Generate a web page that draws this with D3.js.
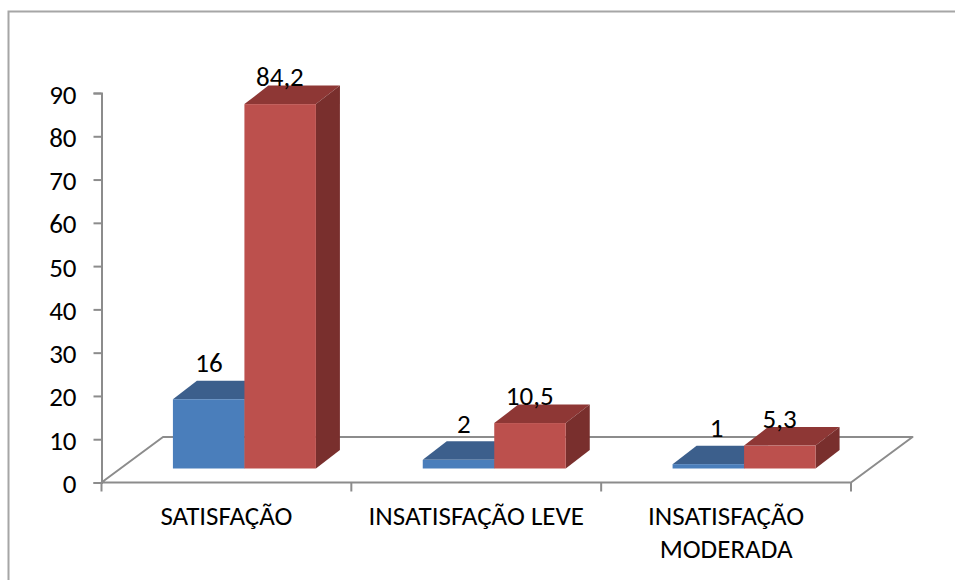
<!DOCTYPE html>
<html><head><meta charset="utf-8">
<script src="https://cdnjs.cloudflare.com/ajax/libs/d3/7.8.5/d3.min.js"></script>
<style>html,body{margin:0;padding:0;background:#fff}svg{display:block}text{font-family:Carlito,"Liberation Sans","Open Sans",sans-serif;fill:#000}</style>
</head><body>
<svg id="c" width="955" height="580"></svg>
<script>
const categories = [["SATISFAÇÃO"], ["INSATISFAÇÃO LEVE"], ["INSATISFAÇÃO", "MODERADA"]];
const seriesA = [16, 2, 1];
const seriesB = [84.2, 10.5, 5.3];
const labelsA = ["16", "2", "1"];
const labelsB = ["84,2", "10,5", "5,3"];
const yTicks = [0,10,20,30,40,50,60,70,80,90];

const svg = d3.select("#c");
const grey = "#8c8c8c";
const X0 = 101.5, X1 = 851, Y0 = 482.5, YT = 93;
const depthFloor = [61.5, -45.5];
const y = d3.scaleLinear().domain([0,90]).range([Y0, YT]);
const xCat = d3.scaleBand().domain(d3.range(categories.length)).range([X0, X1]);
const unit = (Y0 - YT) / 90;
const baseY = 468.5;
const barW = 71.5, dx = 24, dy = 18.5;
const nudgeA = [0, 5, 8];

// frame
svg.append("path").attr("d","M8.5 580V11.5H955").attr("fill","none").attr("stroke","#a6a6a6").attr("stroke-width",2);

// floor
svg.append("path")
  .attr("d",`M${X0} ${Y0}L${X0+depthFloor[0]} ${Y0+depthFloor[1]}H${X1+depthFloor[0]}L${X1} ${Y0}Z`)
  .attr("fill","#fff").attr("stroke",grey).attr("stroke-width",2).attr("stroke-linejoin","round");

// axes
const yAxis = d3.axisLeft(y).tickValues(yTicks).tickSize(8).tickPadding(17);
const gy = svg.append("g").attr("transform",`translate(${X0},0)`).call(yAxis);
gy.selectAll("line,path").attr("stroke",grey).attr("stroke-width",2);
gy.selectAll("text").attr("font-size",27).attr("dy","0.37em").style("font-family",'Carlito,"Liberation Sans",sans-serif').attr("fill","#000");

const edges = d3.scaleLinear().domain([0,3]).range([X0,X1]);
svg.append("g").selectAll("line").data(d3.range(0,4)).join("line")
  .attr("x1",d=>edges(d)).attr("x2",d=>edges(d)).attr("y1",Y0).attr("y2",Y0+9)
  .attr("stroke",grey).attr("stroke-width",2);

function bar(g, x, v, front, top, side){
  const t = baseY - v*unit;
  g.append("path").attr("d",`M${x} ${t}l${dx} ${-dy}h${barW}l${-dx} ${dy}Z`).attr("fill",top);
  g.append("path").attr("d",`M${x+barW} ${t}l${dx} ${-dy}V${baseY-dy}l${-dx} ${dy}Z`).attr("fill",side);
  g.append("rect").attr("x",x).attr("y",t).attr("width",barW).attr("height",baseY-t).attr("fill",front);
}
const bars = svg.append("g");
categories.forEach((c,i)=>{
  const cx = xCat(i)+xCat.bandwidth()/2 + 18;
  bar(bars, cx-barW, seriesA[i], "#4a7ebb", "#3c5f8c", "#2f4b70");
  bar(bars, cx, seriesB[i], "#bc504d", "#8e3735", "#792f2d");
});

// value labels
categories.forEach((c,i)=>{
  const cx = xCat(i)+xCat.bandwidth()/2 + 18;
  svg.append("text").attr("x",cx-35.5+nudgeA[i]).attr("y",baseY-seriesA[i]*unit-27).attr("text-anchor","middle").attr("font-size",27).text(labelsA[i]);
  svg.append("text").attr("x",cx+35.5).attr("y",baseY-seriesB[i]*unit-18).attr("text-anchor","middle").attr("font-size",27).text(labelsB[i]);
});

// category labels
categories.forEach((c,i)=>{
  const cx = xCat(i)+xCat.bandwidth()/2;
  const t = svg.append("text").attr("text-anchor","middle").attr("font-size",27);
  c.forEach((l,j)=>t.append("tspan").attr("x",cx).attr("y",525+j*33).text(l));
});
</script>
</body></html>
